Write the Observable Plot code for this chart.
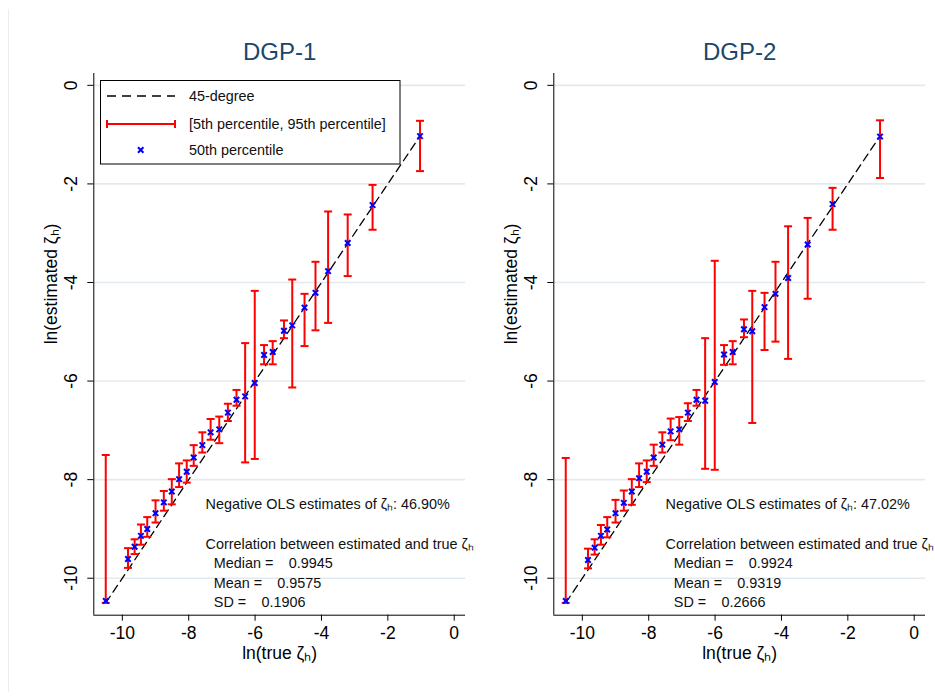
<!DOCTYPE html>
<html>
<head>
<meta charset="utf-8">
<script src="https://cdn.jsdelivr.net/npm/d3@7"></script>
<script src="https://cdn.jsdelivr.net/npm/@observablehq/plot@0.6"></script>
<style>
  body { margin: 0; background: #fff; }
  #wrap { position: relative; width: 935px; height: 698px; overflow: hidden; background: #fff; }
  #edge { position: absolute; left: 8px; top: 9px; height: 683px; border-left: 1px solid #ececec; }
  .panel { position: absolute; top: 0; }
</style>
</head>
<body>
<div id="wrap"><div id="edge"></div></div>
<script>
// ln(true zeta_h) for each group (shared by both DGPs)
const trueZeta = [-10.50, -9.83, -9.63, -9.44, -9.25, -9.00, -8.75, -8.51, -8.29, -8.06,
  -7.85, -7.59, -7.34, -7.08, -6.82, -6.56, -6.30, -6.01, -5.73, -5.47,
  -5.13, -4.88, -4.51, -4.18, -3.80, -3.21, -2.46, -1.03];

// DGP-1: percentiles of ln(estimated zeta_h)
const dgp1Median = [-10.46, -9.61, -9.36, -9.14, -9.00, -8.68, -8.46, -8.24, -7.99, -7.84,
  -7.55, -7.30, -7.04, -6.98, -6.64, -6.38, -6.31, -6.04, -5.47, -5.41,
  -4.98, -4.87, -4.51, -4.21, -3.77, -3.20, -2.43, -1.03];
const dgp1P5 = [-10.50, -9.79, -9.51, -9.32, -9.16, -8.87, -8.63, -8.50, -8.15, -8.06,
  -7.72, -7.45, -7.19, -7.26, -6.81, -6.50, -7.65, -7.58, -5.66, -5.66,
  -5.13, -6.13, -5.29, -4.97, -4.82, -3.87, -2.93, -1.74];
const dgp1P95 = [-7.50, -9.39, -9.21, -8.91, -8.76, -8.42, -8.23, -7.99, -7.67, -7.61,
  -7.30, -7.04, -6.77, -6.72, -6.46, -6.18, -5.23, -4.17, -5.27, -5.19,
  -4.77, -3.94, -4.23, -3.58, -2.56, -2.62, -2.02, -0.72];

// DGP-2: percentiles of ln(estimated zeta_h)
const dgp2Median = [-10.46, -9.63, -9.38, -9.14, -9.01, -8.68, -8.47, -8.24, -7.97, -7.84,
  -7.55, -7.29, -7.02, -6.98, -6.64, -6.38, -6.40, -6.02, -5.46, -5.41,
  -4.95, -4.99, -4.50, -4.23, -3.91, -3.23, -2.41, -1.04];
const dgp2P5 = [-10.50, -9.80, -9.52, -9.32, -9.17, -8.87, -8.63, -8.51, -8.15, -8.05,
  -7.72, -7.45, -7.20, -7.29, -6.81, -6.50, -7.78, -7.80, -5.67, -5.66,
  -5.11, -6.85, -5.37, -5.20, -5.55, -4.33, -2.93, -1.88];
const dgp2P95 = [-7.56, -9.40, -9.21, -8.92, -8.76, -8.41, -8.22, -7.99, -7.67, -7.61,
  -7.29, -7.04, -6.76, -6.73, -6.45, -6.18, -5.13, -3.56, -5.27, -5.19,
  -4.75, -4.17, -4.21, -3.58, -2.86, -2.69, -2.08, -0.71];

// Summary statistics printed in each panel
const negativeShare = ["46.90%", "47.02%"];
const corrMedian = ["0.9945", "0.9924"];
const corrMean = ["0.9575", "0.9319"];
const corrSD = ["0.1906", "0.2666"];

const panelTitles = ["DGP-1", "DGP-2"];
const xTicks = [-10, -8, -6, -4, -2, 0];
const yTicks = [-10, -8, -6, -4, -2, 0];
const legendLabels = ["45-degree", "[5th percentile, 95th percentile]", "50th percentile"];

const xDomain = [-10.86, 0.34];
const yDomain = [-10.75, 0.24];
const FONT = "'Liberation Sans', Arial, Helvetica, sans-serif";
const RED = "#ff0000";
const BLUE = "#0000ff";
const TITLE_COLOR = "#1a476f";
const SUB = "\u2095"; // subscript h
const MARK_R = 2.6;   // size of the median "x" marker

// horizontal cap used at both ends of each percentile bar
const capSymbol = {
  draw(context, size) {
    const r = Math.sqrt(size / Math.PI);
    context.moveTo(-r, 0);
    context.lineTo(r, 0);
  }
};

function makePanel(k, median, p5, p95, width, withLegend) {
  const rows = trueZeta.map((x, i) => ({x, med: median[i], lo: p5[i], hi: p95[i]}));
  const ext = d3.extent(trueZeta);
  const diagonal = [{v: ext[0]}, {v: ext[1]}];
  const marginLeft = 93.3, frameW = 371.7;

  const note = (text, dx, dy) =>
    Plot.text([text], {frameAnchor: "top-left", dx, dy, textAnchor: "start", lineAnchor: "middle",
      fontSize: 14.4, fill: "#111"});

  const plot = Plot.plot({
    width, height: 698,
    marginLeft, marginRight: width - marginLeft - frameW,
    marginTop: 73, marginBottom: 83.3,
    style: {background: "transparent", overflow: "visible", fontFamily: FONT, color: "#000"},
    x: {domain: xDomain},
    y: {domain: yDomain},
    marks: [
      Plot.gridY(yTicks, {stroke: "#e3eaef", strokeOpacity: 1, strokeWidth: 1.6}),
      Plot.ruleY([yDomain[0]], {stroke: "#000", strokeWidth: 1}),
      Plot.ruleX([xDomain[0]], {stroke: "#000", strokeWidth: 1}),
      Plot.axisX(xTicks, {tickSize: 6, tickPadding: 5, fontSize: 17.5, tickFormat: d => String(d), label: null}),
      Plot.axisY(yTicks, {tickSize: 6, tickPadding: 11, tickRotate: -90, fontSize: 17.5, tickFormat: d => String(d), label: null}),
      // 45-degree reference line
      Plot.line(diagonal, {x: "v", y: "v", stroke: "#000", strokeWidth: 1.3, strokeDasharray: "8,5"}),
      // 5th–95th percentile bars with caps
      Plot.ruleX(rows, {x: "x", y1: "lo", y2: "hi", stroke: RED, strokeWidth: 2}),
      Plot.dot(rows, {x: "x", y: "lo", symbol: capSymbol, r: 4, stroke: RED, strokeWidth: 2, fill: "none"}),
      Plot.dot(rows, {x: "x", y: "hi", symbol: capSymbol, r: 4, stroke: RED, strokeWidth: 2, fill: "none"}),
      // medians
      Plot.dot(rows, {x: "x", y: "med", symbol: "times", r: MARK_R, stroke: BLUE, strokeWidth: 2}),
      // titles
      Plot.text([panelTitles[k]], {frameAnchor: "top", dy: -21, lineAnchor: "middle", fontSize: 24, fill: TITLE_COLOR}),
      Plot.text([`ln(true \u03b6${SUB})`], {frameAnchor: "bottom", dy: 38, lineAnchor: "middle", fontSize: 17.5, fill: "#000"}),
      Plot.text([`ln(estimated \u03b6${SUB})`], {frameAnchor: "left", dx: -42, rotate: -90, lineAnchor: "middle", fontSize: 17.5, fill: "#000"}),
      // summary statistics
      note(`Negative OLS estimates of \u03b6${SUB}: ${negativeShare[k]}`, 111.7, 431),
      note(`Correlation between estimated and true \u03b6${SUB}`, 111.7, 471),
      note("Median =", 120, 490.3),
      note(corrMedian[k], 195, 490.3),
      note("Mean =", 120, 510.3),
      note(corrMean[k], 183.4, 510.3),
      note("SD =", 120, 529.3),
      note(corrSD[k], 167.7, 529.3)
    ]
  });

  if (withLegend) {
    const svg = d3.select(plot);
    const g = svg.append("g").attr("transform", "translate(100.5,80.5)")
      .attr("font-family", FONT).attr("font-size", 14.4).attr("text-anchor", "start");
    g.append("rect").attr("width", 299.5).attr("height", 83.5)
      .attr("fill", "#fff").attr("stroke", "#000").attr("stroke-width", 1);
    // dashed line key
    g.append("line").attr("x1", 6.5).attr("x2", 74.5).attr("y1", 15.5).attr("y2", 15.5)
      .attr("stroke", "#000").attr("stroke-width", 1.3).attr("stroke-dasharray", "9,6");
    // capped bar key
    const ky = 43.5;
    g.append("line").attr("x1", 6.5).attr("x2", 74.5).attr("y1", ky).attr("y2", ky)
      .attr("stroke", RED).attr("stroke-width", 2);
    [6.5, 74.5].forEach(x => g.append("line").attr("x1", x).attr("x2", x)
      .attr("y1", ky - 4).attr("y2", ky + 4).attr("stroke", RED).attr("stroke-width", 2));
    // median marker key
    g.append("path").attr("transform", "translate(40.2,69.5)")
      .attr("d", d3.symbol(d3.symbolTimes, MARK_R * MARK_R * Math.PI)())
      .attr("fill", "none").attr("stroke", BLUE).attr("stroke-width", 2);
    [15.5, 43.5, 69.5].forEach((y, i) =>
      g.append("text").attr("x", 88.5).attr("y", y).attr("dy", "0.35em")
        .attr("text-anchor", "start").attr("fill", "#111").text(legendLabels[i]));
  }

  plot.classList.add("panel");
  return plot;
}

const wrap = document.getElementById("wrap");
const left = makePanel(0, dgp1Median, dgp1P5, dgp1P95, 480, true);
left.style.left = "0px";
const right = makePanel(1, dgp2Median, dgp2P5, dgp2P95, 475, false);
right.style.left = "460px";
wrap.appendChild(left);
wrap.appendChild(right);
</script>
</body>
</html>
